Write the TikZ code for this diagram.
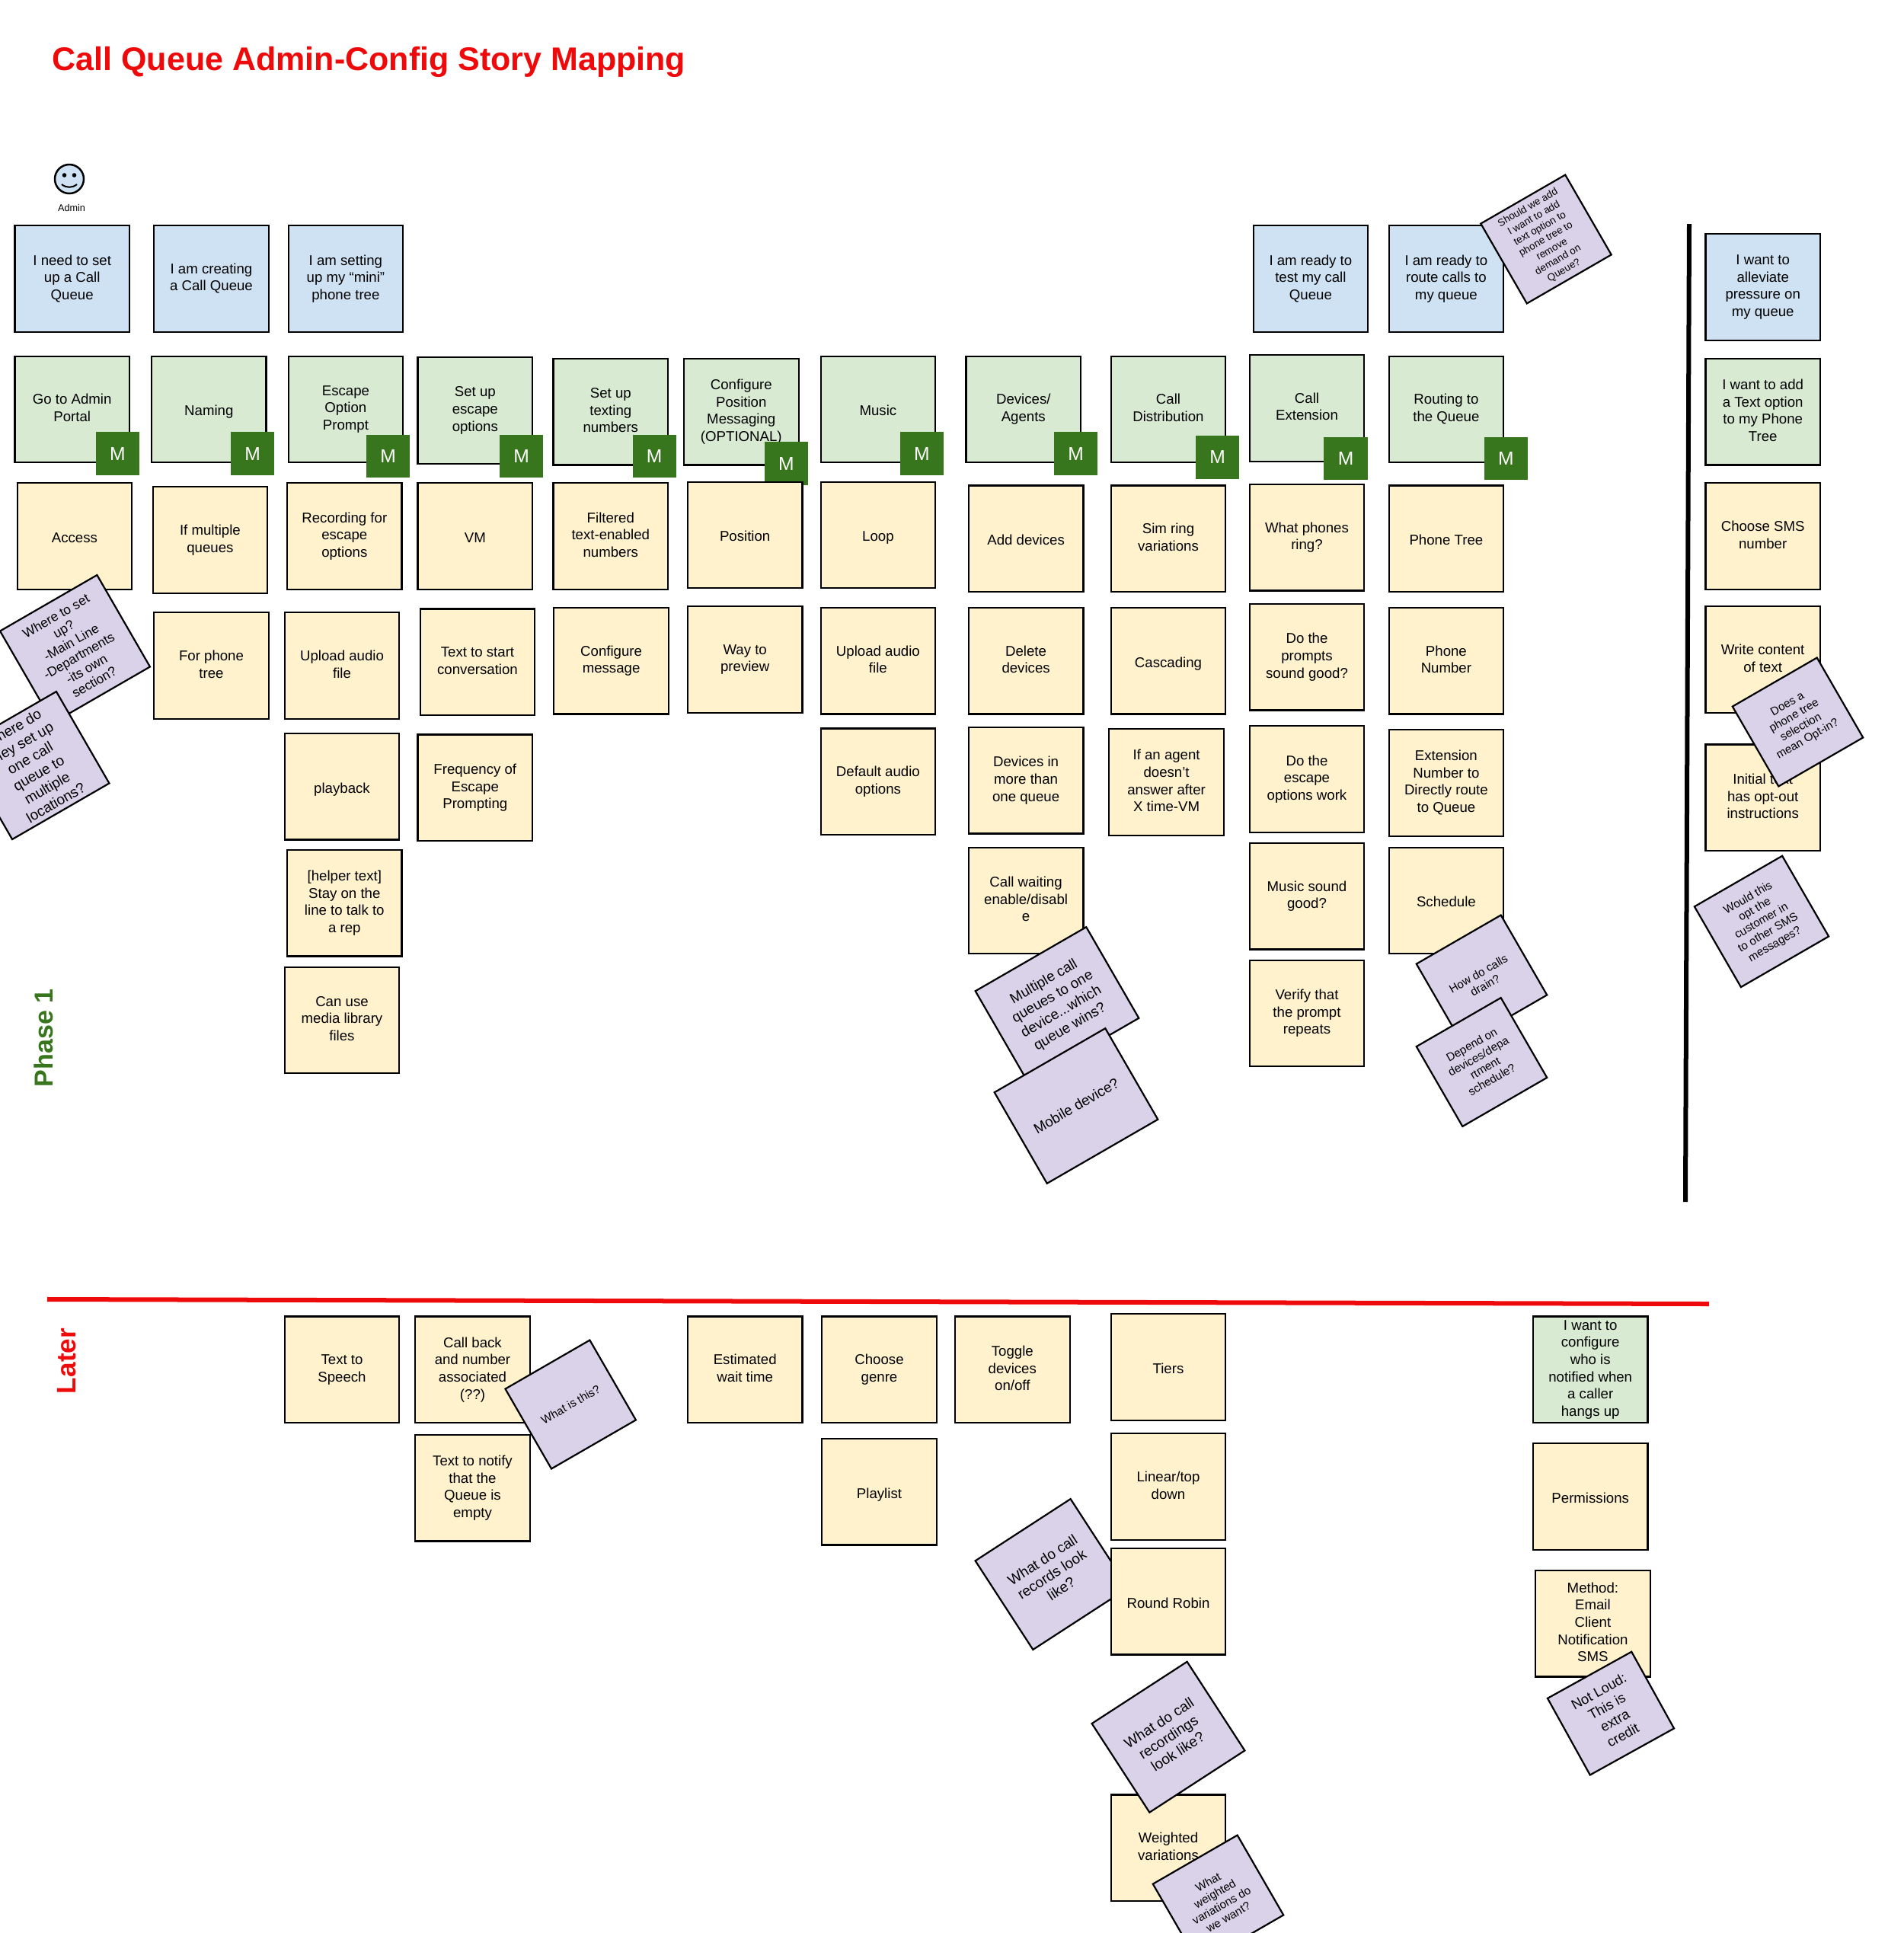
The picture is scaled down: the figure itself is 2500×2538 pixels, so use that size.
\documentclass[tikz,border=0pt]{standalone}
\usepackage{fontspec}
\setmainfont{Liberation Sans}
\usepackage{tikz}

\definecolor{cardblue}{HTML}{CFE2F3}
\definecolor{cardgreen}{HTML}{D9EAD3}
\definecolor{cardyellow}{HTML}{FFF2CC}
\definecolor{cardpurple}{HTML}{D9D2E9}
\definecolor{mustgreen}{HTML}{38761D}
\definecolor{linered}{HTML}{EE0A0A}

\tikzset{
    storycard/.style={draw, line width=0.022cm, minimum width=1.505cm, minimum height=1.395cm, inner sep=0pt, outer sep=0pt, align=center, font=\fontsize{5.3}{6.43}\selectfont,
        execute at begin node={\rule{0pt}{5.9pt}}, execute at end node={\rule[-1.1pt]{0pt}{1.1pt}}},
    bluecard/.style={storycard, fill=cardblue},
    greencard/.style={storycard, fill=cardgreen},
    yellowcard/.style={storycard, fill=cardyellow},
    question/.style={draw, line width=0.022cm, fill=cardpurple, inner sep=0pt, outer sep=0pt, align=center, rotate=30, minimum width=1.28cm, minimum height=1.21cm, font=\fontsize{4.3}{5.0}\selectfont},
    questionmid/.style={question, minimum width=1.47cm, minimum height=1.39cm, font=\fontsize{4.9}{5.7}\selectfont},
    questionbig/.style={question, minimum width=1.68cm, minimum height=1.38cm, font=\fontsize{5.35}{6.5}\selectfont},
    questionwide/.style={question, rotate=3, minimum width=1.49cm, minimum height=1.39cm, font=\fontsize{5.4}{6.4}\selectfont},
    mustbox/.style={fill=mustgreen, text=white, minimum width=0.57cm, minimum height=0.565cm, inner sep=0pt, outer sep=0pt, font=\fontsize{7}{7}\selectfont}
}

\begin{document}
\begin{tikzpicture}[x=0.01cm, y=-0.01cm]
    \useasboundingbox (0,0) rectangle (2500,2538);

    \node (title) [anchor=base west, inner sep=0pt, text=linered, font=\fontsize{12.23}{14}\selectfont\bfseries] at (68,92) {Call Queue Admin-Config Story Mapping};
    \node (phase) [rotate=90, inner sep=0pt, text=mustgreen, font=\fontsize{9.7}{11}\selectfont\bfseries] at (57,1363) {Phase 1};
    \node (later) [rotate=90, inner sep=0pt, text=linered, font=\fontsize{10}{12}\selectfont\bfseries] at (88,1787) {Later};

    \node (smiley) [draw, circle, line width=0.025cm, fill=cardblue, minimum size=0.38cm, inner sep=0pt] at (91,235) {};
    \fill ([shift={(-6.5,-5)}]smiley.center) circle (0.028cm);
    \fill ([shift={(6.5,-5)}]smiley.center) circle (0.028cm);
    \draw[line width=0.02cm] ([shift={(-10,7)}]smiley.center) .. controls ([shift={(-4,12)}]smiley.center) and ([shift={(4,12)}]smiley.center) .. ([shift={(10,7)}]smiley.center);
    \node (admin) [inner sep=0pt, font=\fontsize{3.6}{4}\selectfont] at (94,273) {Admin};

    \node (setqueue) [bluecard] at (94.7,365.8) {I need to set\\up a Call\\Queue};
    \node (creating) [bluecard] at (277.5,365.8) {I am creating\\a Call Queue};
    \node (minitree) [bluecard] at (453.9,365.8) {I am setting\\up my “mini”\\phone tree};
    \node (testcall) [bluecard] at (1720.9,365.8) {I am ready to\\test my call\\Queue};
    \node (routecalls) [bluecard] at (1898.9,365.8) {I am ready to\\route calls to\\my queue};
    \node (alleviate) [bluecard] at (2314.7,377.1) {I want to\\alleviate\\pressure on\\my queue};

    \node (portal) [greencard] at (94.7,537.4) {Go to Admin\\Portal};
    \node (naming) [greencard] at (274.3,537.4) {Naming};
    \node (escapeprompt) [greencard] at (453.9,537.4) {Escape\\Option\\Prompt};
    \node (escapesetup) [greencard] at (623.8,539) {Set up\\escape\\options};
    \node (texting) [greencard] at (801.8,540.6) {Set up\\texting\\numbers};
    \node (positionmsg) [greencard] at (973.3,540.6) {Configure\\Position\\Messaging\\(OPTIONAL)};
    \node (music) [greencard] at (1152.9,537.4) {Music};
    \node (devices) [greencard] at (1343.8,537.4) {Devices/\\Agents};
    \node (distribution) [greencard] at (1534,537.4) {Call\\Distribution};
    \node (extension) [greencard] at (1716,535.8) {Call\\Extension};
    \node (routing) [greencard] at (1898.9,537.4) {Routing to\\the Queue};
    \node (textoption) [greencard] at (2314.7,540.6) {I want to add\\a Text option\\to my Phone\\Tree};

    \node (mportal) [mustbox] at (154.5,595.6) {M};
    \node (mnaming) [mustbox] at (331.7,595.6) {M};
    \node (mescapeprompt) [mustbox] at (509.7,598.9) {M};
    \node (mescapesetup) [mustbox] at (684.5,598.9) {M};
    \node (mtexting) [mustbox] at (859.2,598.9) {M};
    \node (mposition) [mustbox] at (1032.4,608.6) {M};
    \node (mmusic) [mustbox] at (1210.4,595.6) {M};
    \node (mdevices) [mustbox] at (1412.6,595.6) {M};
    \node (mdistribution) [mustbox] at (1598.7,600.5) {M};
    \node (mextension) [mustbox] at (1767,602) {M};
    \node (mrouting) [mustbox] at (1977.3,602) {M};

    \node (access) [yellowcard] at (97.9,704.1) {Access};
    \node (multiqueues) [yellowcard] at (275.9,709) {If multiple\\queues};
    \node (forphone) [yellowcard] at (277.5,874) {For phone\\tree};
    \node (recording) [yellowcard] at (452.3,704.1) {Recording for\\escape\\options};
    \node (uploadescape) [yellowcard] at (449,874) {Upload audio\\file};
    \node (playback) [yellowcard] at (449,1032.6) {playback};
    \node (helper) [yellowcard] at (452.3,1185.6) {[helper text]\\Stay on the\\line to talk to\\a rep};
    \node (medialib) [yellowcard] at (449,1339.4) {Can use\\media library\\files};
    \node (vm) [yellowcard] at (623.8,704.1) {VM};
    \node (starttext) [yellowcard] at (627,869.2) {Text to start\\conversation};
    \node (frequency) [yellowcard] at (623.8,1034.3) {Frequency of\\Escape\\Prompting};
    \node (filtered) [yellowcard] at (801.8,704.1) {Filtered\\text-enabled\\numbers};
    \node (configmsg) [yellowcard] at (802.6,867.6) {Configure\\message};
    \node (position) [yellowcard] at (978.2,702.5) {Position};
    \node (preview) [yellowcard] at (978.2,866) {Way to\\preview};
    \node (loop) [yellowcard] at (1152.9,702.5) {Loop};
    \node (uploadmusic) [yellowcard] at (1152.9,867.6) {Upload audio\\file};
    \node (defaultaudio) [yellowcard] at (1152.9,1026.2) {Default audio\\options};
    \node (adddevices) [yellowcard] at (1347.1,707.3) {Add devices};
    \node (deldevices) [yellowcard] at (1347.1,867.6) {Delete\\devices};
    \node (morequeues) [yellowcard] at (1347.1,1024.6) {Devices in\\more than\\one queue};
    \node (simring) [yellowcard] at (1534,707.3) {Sim ring\\variations};
    \node (cascading) [yellowcard] at (1534,867.6) {Cascading};
    \node (noanswer) [yellowcard] at (1531.6,1027) {If an agent\\doesn't\\answer after\\X time-VM};
    \node (whatring) [yellowcard] at (1716,705.7) {What phones\\ring?};
    \node (promptsgood) [yellowcard] at (1716,862.7) {Do the\\prompts\\sound good?};
    \node (escapework) [yellowcard] at (1716,1022.9) {Do the\\escape\\options work};
    \node (musicgood) [yellowcard] at (1716,1176.7) {Music sound\\good?};
    \node (verify) [yellowcard] at (1716,1330.5) {Verify that\\the prompt\\repeats};
    \node (phonetree) [yellowcard] at (1898.9,707.3) {Phone Tree};
    \node (phonenumber) [yellowcard] at (1898.9,867.6) {Phone\\Number};
    \node (extnumber) [yellowcard] at (1898.9,1027.8) {Extension\\Number to\\Directly route\\to Queue};
    \node (schedule) [yellowcard] at (1898.9,1182.4) {Schedule};
    \node (smsnumber) [yellowcard] at (2314.7,704.1) {Choose SMS\\number};
    \node (writetext) [yellowcard] at (2314.7,866) {Write content\\of text};
    \node (initialtext) [yellowcard] at (2314.7,1047.2) {Initial text\\has opt-out\\instructions};

    \node (callwaiting) [yellowcard] at (1347.1,1182.4) {Call waiting\\enable/disabl\\e};

    \node (wheresetup) [questionmid] at (98.5,852) {Where to set\\up?\\-Main Line\\-Departments\\-its own\\section?};
    \node (wheredo) [questionmid, font=\fontsize{5.4}{6.4}\selectfont] at (45,1005) {Where do\\they set up\\one call\\queue to\\multiple\\locations?};
    \node (addoption) [question, font=\fontsize{3.8}{4.5}\selectfont] at (2030,314) {Should we add\\I want to add\\text option to\\phone tree to\\remove\\demand on\\Queue?};
    \node (optin) [question] at (2360.5,948) {Does a\\phone tree\\selection\\mean Opt-in?};
    \node (optother) [question, minimum width=1.33cm, minimum height=1.22cm] at (2313,1209.9) {Would this\\opt the\\customer in\\to other SMS\\messages?};
    \node (multicall) [questionbig] at (1388,1319) {Multiple call\\queues to one\\device...which\\queue wins?};
    \node (mobile) [questionbig] at (1413,1452) {Mobile device?};
    \node (drain) [question] at (1945.5,1286) {How do calls\\drain?};
    \node (depend) [question] at (1945.5,1394.5) {Depend on\\devices/depa\\rtment\\schedule?};

    \node (speech) [yellowcard] at (449,1798.3) {Text to\\Speech};
    \node (callback) [yellowcard] at (620.5,1798.3) {Call back\\and number\\associated\\(??)};
    \node (notify) [yellowcard] at (620.5,1953.6) {Text to notify\\that the\\Queue is\\empty};
    \node (waittime) [yellowcard] at (978.2,1798.3) {Estimated\\wait time};
    \node (genre) [yellowcard] at (1154.5,1798.3) {Choose\\genre};
    \node (playlist) [yellowcard] at (1154.5,1958.6) {Playlist};
    \node (toggle) [yellowcard] at (1329.3,1798.3) {Toggle\\devices\\on/off};
    \node (tiers) [yellowcard] at (1534,1795) {Tiers};
    \node (linear) [yellowcard] at (1534,1952) {Linear/top\\down};
    \node (records) [questionwide] at (1381,2067) {What do call\\records look\\like?};
    \node (robin) [yellowcard] at (1534,2102.6) {Round Robin};
    \node (weighted) [yellowcard] at (1534,2426.3) {Weighted\\variations};
    \node (recordings) [questionwide] at (1534,2280.7) {What do call\\recordings\\look like?};
    \node (whatweighted) [question] at (1599.5,2494) {What\\weighted\\variations do\\we want?};
    \node (hangsup) [greencard] at (2088.2,1798.3) {I want to\\configure\\who is\\notified when\\a caller\\hangs up};
    \node (permissions) [yellowcard] at (2088.2,1965) {Permissions};
    \node (method) [yellowcard] at (2091.4,2131.7) {Method:\\Email\\Client\\Notification\\SMS};
    \node (notloud) [question, rotate=-1, minimum width=1.26cm, minimum height=1.15cm, font=\fontsize{5.2}{6.2}\selectfont] at (2115,2249.6) {Not Loud:\\This is\\extra\\credit};
    \node (whatis) [question] at (749.2,1844) {What is this?};

    \coordinate (sepTop) at (2218,294);
    \coordinate (sepBottom) at (2213,1578);
    \coordinate (phaseLeft) at (62,1706);
    \coordinate (phaseRight) at (2244,1712);
    \draw[line width=0.06cm] (sepTop) -- (sepBottom);
    \draw[line width=0.06cm, linered] (phaseLeft) -- (phaseRight);
\end{tikzpicture}
\end{document}
